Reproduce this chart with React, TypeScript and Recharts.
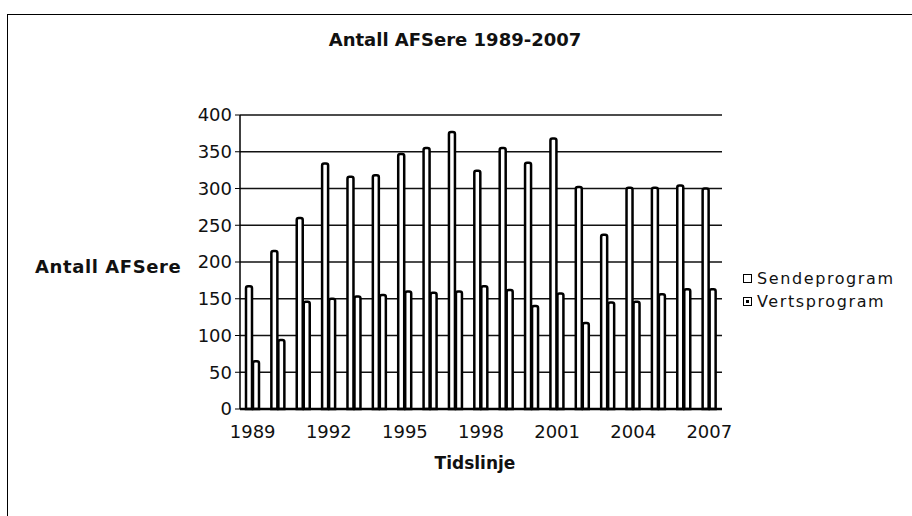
import { BarChart, Bar, XAxis, YAxis, CartesianGrid, Legend, Label } from "recharts";

const years = [
  "1989", "1990", "1991", "1992", "1993", "1994", "1995", "1996", "1997", "1998",
  "1999", "2000", "2001", "2002", "2003", "2004", "2005", "2006", "2007",
];
const sendeprogram = [167, 215, 260, 334, 316, 318, 347, 355, 377, 324, 355, 335, 368, 302, 237, 301, 301, 304, 300];
const vertsprogram = [65, 94, 146, 150, 153, 155, 160, 158, 160, 167, 162, 140, 157, 117, 145, 146, 156, 163, 163];
const yTicks = [0, 50, 100, 150, 200, 250, 300, 350, 400];

const data = years.map((year, i) => ({
  year,
  Sendeprogram: sendeprogram[i],
  Vertsprogram: vertsprogram[i],
}));

const font = "'DejaVu Sans', Verdana, sans-serif";

function renderLegend(props: any) {
  const items = props.payload || [];
  return (
    <div style={{ fontFamily: font, fontSize: 16, letterSpacing: 1.6, color: "#111", lineHeight: "23px" }}>
      {items.map((item: any, i: number) => (
        <div key={item.value} style={{ display: "flex", alignItems: "center" }}>
          <span
            style={{
              width: 7,
              height: 7,
              border: "1.5px solid #000",
              marginRight: 5,
              display: "inline-flex",
              alignItems: "center",
              justifyContent: "center",
            }}
          >
            {i === 1 && <span style={{ width: 3, height: 3, background: "#000" }} />}
          </span>
          {item.value}
        </div>
      ))}
    </div>
  );
}

export default function App() {
  return (
    <div style={{ position: "fixed", left: 0, top: 0, width: 912, height: 516, background: "#fff", overflow: "hidden" }}>
      <div
        style={{
          position: "absolute",
          left: 7,
          top: 14,
          width: 1000,
          height: 600,
          borderTop: "1.5px solid #000",
          borderLeft: "1.5px solid #000",
        }}
      />
      <div
        style={{
          position: "absolute",
          left: 0,
          top: 29,
          width: 910,
          textAlign: "center",
          fontFamily: font,
          fontWeight: "bold",
          fontSize: 18,
          color: "#111",
        }}
      >
        Antall AFSere 1989-2007
      </div>
      <div style={{ position: "absolute", left: 0, top: 0 }}>
        <BarChart
          width={912}
          height={516}
          data={data}
          margin={{ top: 115, right: 190, left: 33, bottom: 45 }}
          barSize={6}
          barGap={1}
        >
          <CartesianGrid yAxisId="left" vertical={false} stroke="#111" strokeWidth={1.5} />
          <XAxis
            dataKey="year"
            interval={2}
            height={62}
            tickLine={false}
            tickMargin={10}
            axisLine={{ stroke: "#000", strokeWidth: 2.5 }}
            tick={{ fontFamily: font, fontSize: 18, fill: "#111" }}
          >
            <Label
              value="Tidslinje"
              position="insideBottom"
              offset={2}
              dx={-6}
              style={{ fontFamily: font, fontSize: 17, fontWeight: "bold", fill: "#111" }}
            />
          </XAxis>
          <YAxis
            yAxisId="left"
            width={207}
            domain={[0, 400]}
            ticks={yTicks}
            interval={0}
            tickSize={5}
            tickMargin={3}
            axisLine={{ stroke: "#000", strokeWidth: 1.5 }}
            tickLine={{ stroke: "#000" }}
            tick={{ fontFamily: font, fontSize: 18, fill: "#111" }}
          >
            <Label
              value="Antall AFSere"
              position="insideLeft"
              offset={2}
              dy={5}
              style={{ fontFamily: font, fontSize: 18, letterSpacing: 0.6, fontWeight: "bold", fill: "#111", textAnchor: "start" }}
            />
          </YAxis>
          <YAxis
            yAxisId="right"
            orientation="right"
            width={0}
            domain={[0, 400]}
            tick={false}
            tickLine={false}
            axisLine={{ stroke: "#000", strokeWidth: 1.5 }}
          />
          <Legend
            layout="vertical"
            align="center"
            verticalAlign="middle"
            wrapperStyle={{ left: 743, top: 267, width: 169 }}
            content={renderLegend}
          />
          <Bar
            yAxisId="left"
            dataKey="Sendeprogram"
            fill="#fff"
            stroke="#000"
            strokeWidth={2.5}
            radius={[2, 2, 0, 0]}
            isAnimationActive={false}
          />
          <Bar
            yAxisId="left"
            dataKey="Vertsprogram"
            fill="#fff"
            stroke="#000"
            strokeWidth={2.5}
            radius={[2, 2, 0, 0]}
            isAnimationActive={false}
          />
        </BarChart>
      </div>
    </div>
  );
}
